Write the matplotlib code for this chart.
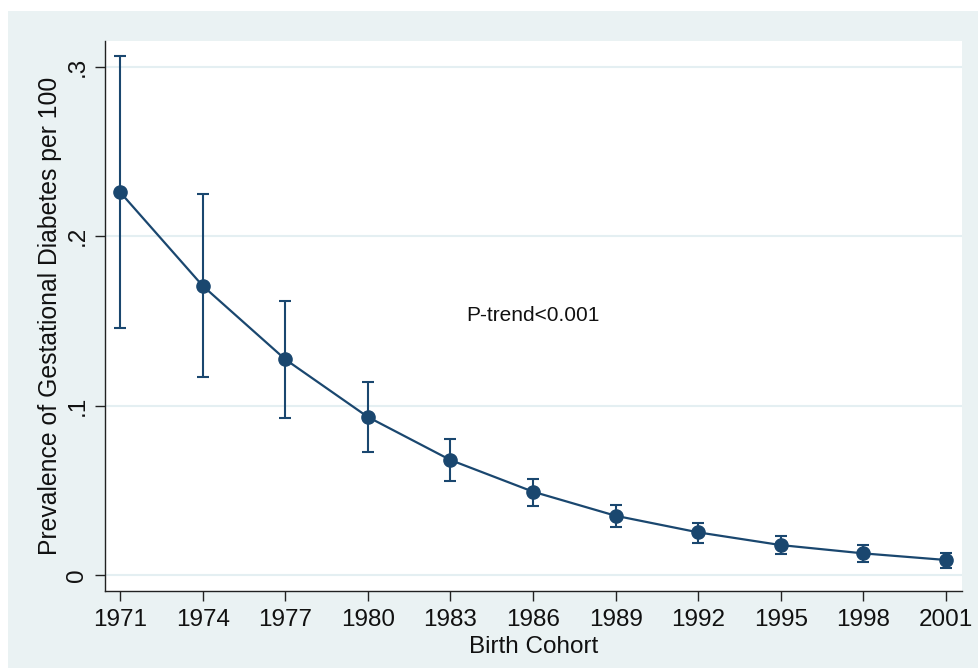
import numpy as np
import matplotlib.pyplot as plt
from matplotlib.patches import Rectangle

plt.rcParams['font.family'] = ['Liberation Sans', 'DejaVu Sans']

# prevalence per birth cohort with 95% CI
cohort = [1971, 1974, 1977, 1980, 1983, 1986, 1989, 1992, 1995, 1998, 2001]
prevalence = [0.226, 0.1707, 0.1273, 0.0933, 0.0679, 0.0492, 0.0350, 0.0252, 0.0177, 0.0128, 0.0089]
ci_low = [0.1458, 0.1167, 0.0929, 0.0728, 0.0555, 0.0407, 0.0285, 0.0191, 0.0124, 0.0077, 0.0043]
ci_high = [0.3064, 0.2251, 0.1616, 0.1141, 0.0801, 0.0567, 0.0413, 0.0305, 0.0232, 0.0175, 0.0132]

y_ticks = [0, 0.1, 0.2, 0.3]
y_tick_labels = ["0", ".1", ".2", ".3"]

navy = "#1a476f"
bg = "#eaf2f3"

fig = plt.figure(figsize=(9.79, 6.68), dpi=100)
fig.patch.set_facecolor("white")
fig.patches.append(Rectangle((8 / 979, 0), 1, 1 - 11 / 668, transform=fig.transFigure,
                             facecolor=bg, edgecolor="none", zorder=-10))

ax = fig.add_axes([105 / 979, 1 - 591 / 668, (962 - 105) / 979, (591 - 40.7) / 668])
ax.set_facecolor("white")

y = np.array(prevalence)
err = [y - np.array(ci_low), np.array(ci_high) - y]
ax.errorbar(cohort, prevalence, yerr=err, fmt="none", ecolor=navy, elinewidth=1.5,
            capsize=4.5, capthick=1.5, zorder=3)
ax.plot(cohort, prevalence, color=navy, lw=1.6, marker="o", markersize=9.5,
        markerfacecolor=navy, markeredgecolor=navy, zorder=4)

ax.set_xlim(1970.45, 2001.58)
ax.set_ylim(-0.0094, 0.3154)
ax.set_xticks(cohort)
ax.set_yticks(y_ticks)
ax.set_yticklabels(y_tick_labels, rotation=90, va="center")
ax.grid(axis="y", color="#e4eff2", lw=1.5, zorder=0)
ax.set_axisbelow(True)

for side in ["top", "right"]:
    ax.spines[side].set_visible(False)
for side in ["left", "bottom"]:
    ax.spines[side].set_color("#222222")
    ax.spines[side].set_linewidth(1.0)

ax.tick_params(axis="both", length=7, width=1.0, color="#222222", labelsize=17.5, labelcolor="#111111")
ax.tick_params(axis="x", pad=6)
ax.tick_params(axis="y", pad=5)

ax.set_xlabel("Birth Cohort", fontsize=17.5, color="#111111")
ax.xaxis.set_label_coords(0.5, -0.082)
ax.set_ylabel("Prevalence of Gestational Diabetes per 100", fontsize=17.8, color="#111111")
ax.yaxis.label.set_va("center")
ax.yaxis.set_label_coords(-0.064, 0.50)

ax.text(1986.0, 0.153, "P-trend<0.001", fontsize=15, color="#111111", ha="center", va="center")

fig.savefig("out.png", dpi=100, facecolor=fig.get_facecolor())
